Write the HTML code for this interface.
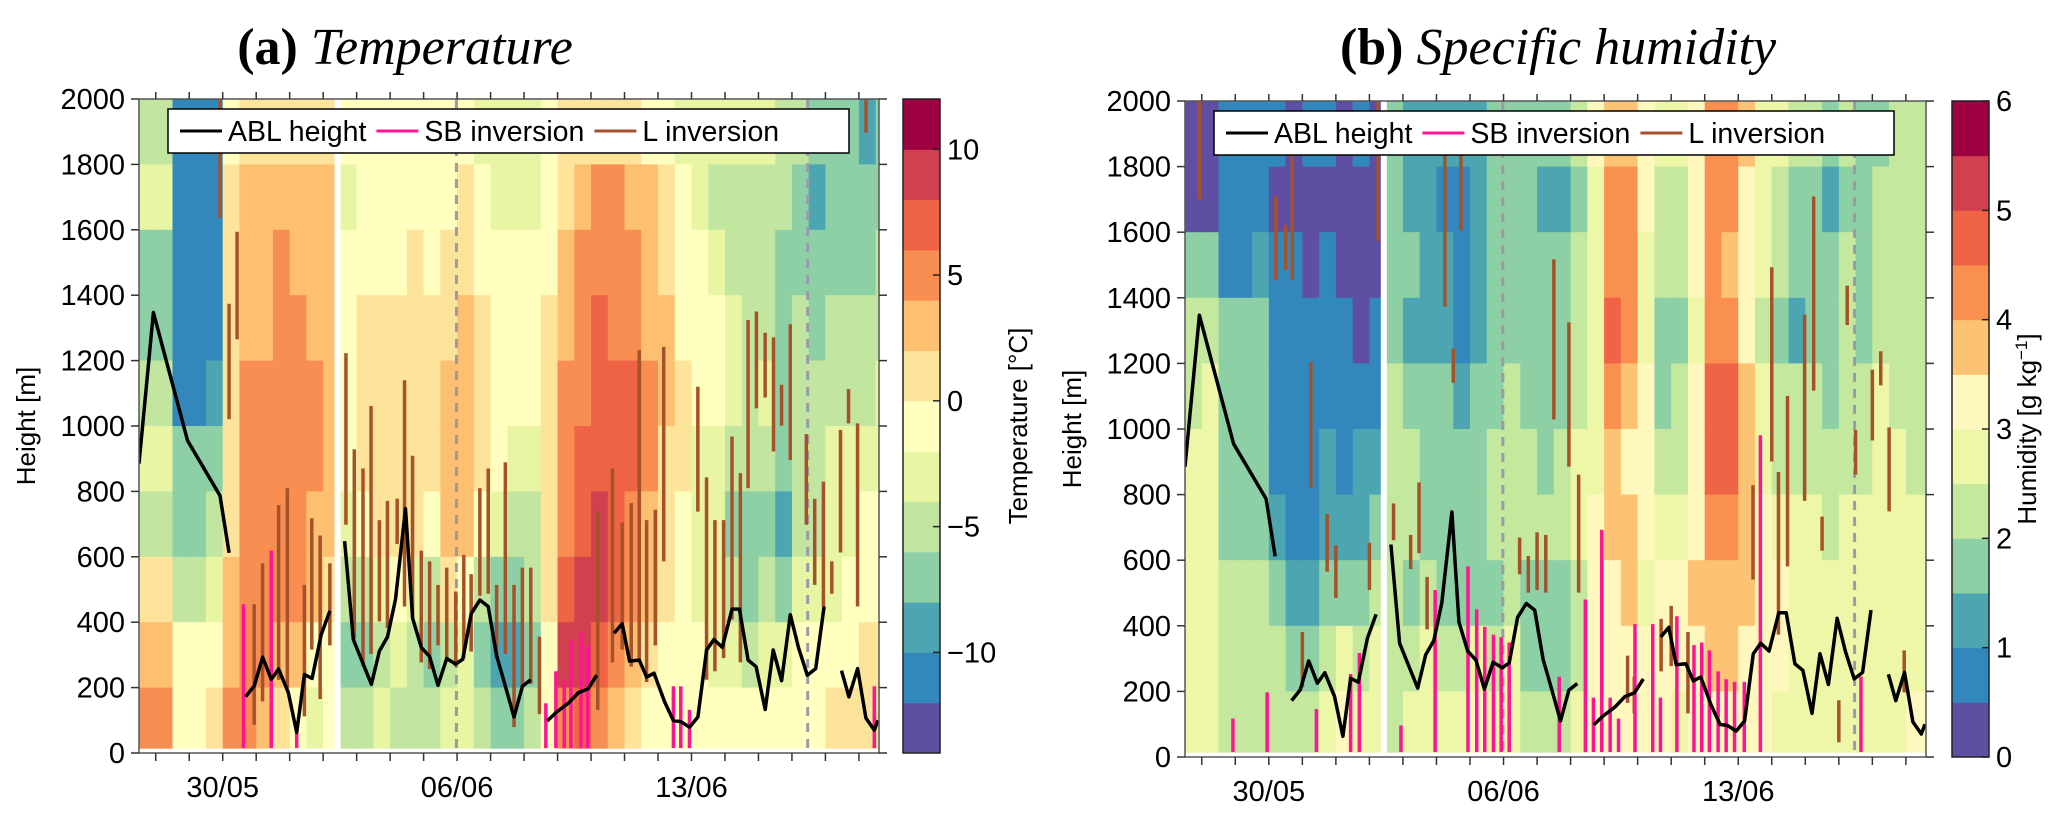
<!DOCTYPE html>
<html><head><meta charset="utf-8"><style>
html,body{margin:0;padding:0;background:#fff;}
svg{display:block;font-family:"Liberation Sans",sans-serif;}
</style></head><body>
<svg id="fig" width="2067" height="818" viewBox="0 0 2067 818" xmlns="http://www.w3.org/2000/svg">
<text x="405" y="64" text-anchor="middle" font-family="Liberation Serif,serif" font-size="52"><tspan font-weight="bold">(a)</tspan> <tspan font-style="italic">Temperature</tspan></text>
<text x="1558" y="64" text-anchor="middle" font-family="Liberation Serif,serif" font-size="52"><tspan font-weight="bold">(b)</tspan> <tspan font-style="italic">Specific humidity</tspan></text>
</svg>
<script>
// ---------- data ----------
const dateLabels=["30/05","06/06","13/06"];
const dateDays=[2.5,9.5,16.5];
const yTicks=[0,200,400,600,800,1000,1200,1400,1600,1800,2000];
const tempColors=['#5e4fa2','#3288bd','#4ca5b0','#8ed0a5','#c2e6a0','#e8f6a4','#ffffc0','#fee39a','#fdc070','#f98e52','#ee6445','#d1404e','#9e0142'];
const humColors=['#5e4fa2','#3288bd','#4ca5b0','#8ed0a5','#c5e89f','#eef7a8','#fff8be','#fdc374','#f99050','#ee6445','#d1404e','#9e0142'];
const tempTicks=[-10,-5,0,5,10];
const humTicks=[0,1,2,3,4,5,6];
// bins per half-day column, rows top (2000 m) -> bottom (0 m), 200 m each
const tempBins=[
[4,5,3,3,4,5,4,7,8,9],[4,5,3,3,4,5,4,7,8,9],[1,1,1,1,1,3,3,4,6,6],[1,1,1,1,1,3,3,4,6,6],[1,1,1,1,2,3,4,5,6,7],
[6,7,7,7,7,7,7,8,8,9],[7,8,8,8,9,9,9,9,9,9],[7,8,8,8,9,9,9,9,9,8],[7,8,9,9,9,9,9,9,8,7],[7,8,8,9,9,9,9,9,8,6],
[7,8,8,8,9,9,8,8,6,5],[7,8,8,8,8,8,8,7,6,6],[6,5,6,6,6,6,5,4,3,4],[6,6,6,7,7,7,6,4,3,4],[6,6,6,7,7,7,7,5,4,5],
[6,6,6,7,7,7,7,6,5,4],[6,6,7,7,7,7,7,5,4,4],[6,6,6,7,7,7,6,4,3,4],[6,6,7,7,8,8,8,7,4,5],[6,7,7,8,8,8,8,6,5,5],
[5,6,6,7,7,7,6,4,3,4],[5,5,6,6,6,6,5,3,2,3],[5,5,6,6,6,5,4,3,2,3],[5,5,6,6,6,5,4,4,3,4],[6,6,6,7,7,7,7,7,6,6],
[7,7,8,8,9,9,9,10,11,9],[7,8,9,9,9,10,10,11,11,10],[7,9,9,10,10,10,11,11,10,9],[7,9,9,9,10,10,10,10,9,8],[7,8,9,9,10,10,9,9,8,7],
[6,8,8,8,9,9,8,8,7,6],[6,7,7,8,8,7,7,7,6,6],[5,6,6,6,7,7,6,6,6,6],[5,5,6,6,6,5,5,5,6,6],[5,4,5,6,6,5,5,5,5,6],
[5,4,4,5,5,4,3,4,5,6],[5,4,4,4,4,4,3,3,4,6],[5,4,4,4,5,4,3,4,5,6],[4,4,3,3,3,3,2,3,5,6],[4,3,3,4,4,4,4,5,6,6],
[3,2,3,3,4,4,4,5,6,6],[3,3,3,4,4,5,5,5,6,7],[3,3,3,4,4,5,5,6,6,7],[2,3,3,4,4,5,6,6,7,7],[3,3,4,4,5,5,6,6,7,7]];
const humBins=[
[0,0,3,4,4,5,5,5,5,5],[0,0,3,4,5,5,5,5,5,5],[1,1,1,3,3,3,3,4,4,4],[1,1,1,3,3,3,3,4,4,4],[1,1,2,3,3,3,3,4,4,4],
[1,0,1,1,1,1,2,3,4,4],[0,0,1,1,1,1,1,2,3,4],[1,0,0,1,1,1,1,2,3,4],[1,0,1,1,1,2,2,3,4,5],[0,0,0,1,1,1,2,3,5,6],
[1,0,0,0,1,2,2,3,4,5],[0,0,0,1,1,2,3,4,5,5],[3,3,3,3,4,4,4,4,4,4],[2,2,3,2,3,4,4,3,4,5],[2,2,2,2,3,3,3,4,5,5],
[2,1,2,2,3,3,3,3,4,5],[2,1,1,1,2,3,3,3,4,5],[2,2,2,2,3,3,3,3,5,6],[3,3,3,3,3,4,4,3,4,5],[3,3,3,3,4,4,4,4,5,5],
[3,3,3,3,3,4,4,3,3,4],[3,2,3,3,3,3,4,3,3,4],[3,2,3,3,3,4,4,3,3,4],[4,3,4,4,4,5,5,4,4,5],[6,5,5,5,5,5,6,6,6,6],
[7,8,8,9,8,7,7,6,6,6],[7,8,8,8,7,6,7,7,6,6],[6,6,5,5,6,6,6,5,6,6],[5,4,4,3,3,4,5,6,6,6],[5,4,4,3,4,4,5,6,6,5],
[6,6,6,5,6,6,6,7,6,6],[8,8,8,8,9,9,8,7,7,6],[8,8,7,8,9,9,8,7,7,6],[7,6,6,6,7,7,7,7,6,6],[5,5,5,4,5,5,6,6,6,6],
[5,4,4,3,4,4,5,6,6,5],[4,3,3,2,4,4,5,5,5,5],[4,3,3,3,4,4,5,5,5,5],[3,2,3,3,3,4,4,5,5,5],[4,3,4,4,4,4,5,5,5,5],
[3,3,3,3,4,4,5,5,5,5],[3,4,4,4,5,5,5,5,5,5],[4,4,4,4,4,5,5,5,5,5],[4,4,4,4,4,4,5,5,5,6],[4,4,4,4,4,4,5,5,5,6]];
// ABL height segments (null = gap)
const ablDays=[0,0.43,1.45,2.42,2.69,null,
3.18,3.44,3.69,3.95,4.17,4.46,4.71,4.94,5.17,5.44,5.70,null,
6.14,6.40,6.94,7.18,7.42,7.66,7.96,8.17,8.43,8.68,8.93,9.19,9.46,9.67,9.92,10.18,10.43,10.68,10.91,11.20,11.45,11.70,null,
12.19,12.47,12.83,13.12,13.41,13.67,null,
14.19,14.43,14.65,14.94,15.16,15.38,15.70,15.96,16.18,16.44,16.69,16.95,17.17,17.42,17.71,17.93,18.19,18.43,18.70,18.94,19.19,19.45,19.70,19.96,20.21,20.46,null,
20.98,21.20,21.46,21.71,21.96,22.07];
const ablHeights=[885,1347,955,787,612,null,
172,205,293,225,257,185,63,240,228,362,435,null,
648,347,210,312,355,470,747,412,323,295,207,289,272,287,426,468,448,298,216,110,204,224,null,
98,125,153,184,196,238,null,
366,395,281,284,232,244,156,99,96,79,110,315,347,323,440,440,284,264,133,315,221,423,321,238,258,448,null,
252,172,258,107,70,100];
// SB inversions (day, top height)
const sbDaysA=[3.12,3.95,4.71,12.15,12.45,12.7,12.9,13.2,13.4,15.96,16.18,16.44,21.96];
const sbTopA=[455,619,60,152,250,224,343,369,330,204,204,132,204];
const sbDaysB=[1.43,2.45,3.92,4.94,5.2,6.44,7.46,8.44,8.7,8.94,9.2,9.43,9.67,11.16,11.94,12.18,12.43,12.68,12.93,13.42,13.95,14.18,14.67,15.18,15.41,15.64,15.9,16.14,16.39,16.68,17.16,20.16];
const sbTopB=[117,197,146,253,317,96,509,581,450,397,373,365,349,245,480,181,693,181,117,405,405,181,429,341,349,325,261,237,229,229,981,245];
// L inversions (day, top, bottom)
const lDaysA=[2.42,2.69,2.93,3.44,3.69,4.17,4.43,4.94,5.16,5.41,5.70,6.18,6.43,6.69,6.93,7.18,7.42,7.71,7.93,8.17,8.43,8.68,8.93,9.19,9.46,9.70,9.92,10.18,10.43,10.68,10.94,11.20,11.45,11.70,11.96,13.70,14.14,14.43,14.7,14.94,15.16,15.42,15.67,16.69,16.95,17.20,17.46,17.71,17.96,18.19,18.44,18.70,18.95,19.19,19.45,19.93,20.18,20.44,20.69,20.95,21.19,21.46,21.71];
const lTopA=[2000,1374,1594,455,580,758,810,514,718,665,580,1223,929,870,1061,712,771,778,1140,909,619,586,514,567,494,606,547,810,870,514,889,514,567,567,356,738,870,705,764,1232,712,744,1242,1120,843,712,712,968,856,1324,1350,1285,1271,1126,1311,975,777,830,586,988,1113,1008,2000];
const lBotA=[1636,1021,1265,86,158,224,198,112,316,165,329,698,349,264,303,402,382,639,448,415,277,257,329,283,264,290,310,481,487,290,303,79,198,211,119,132,277,316,264,277,217,329,586,738,224,250,290,408,277,810,1054,1087,922,1001,896,698,514,448,487,613,1008,448,1897];
const lDaysB=[0.43,2.71,3.0,3.2,3.5,3.75,4.24,4.5,5.5,5.76,6.22,6.73,6.98,7.22,7.75,8.0,8.23,9.98,10.24,10.5,10.76,11.0,11.45,11.74,13.2,13.4,14.2,14.5,15.0,16.94,17.5,17.7,17.97,18.48,18.75,19.0,19.5,19.75,20.0,20.5,20.75,21.0,21.45];
const lTopB=[2000,1709,1621,1845,381,1205,741,645,653,2000,773,677,837,549,1845,1245,1845,669,613,685,677,1517,1325,861,309,245,421,461,381,829,1493,869,1101,1349,1709,733,173,1437,997,1181,1237,1005,325];
const lBotB=[1700,1453,1485,1453,213,821,565,485,509,1573,661,573,621,389,1373,1141,1605,557,501,509,501,1029,885,501,165,133,261,277,133,541,901,373,581,781,1117,629,45,1317,861,965,1133,749,197];
const dashedDays=[9.48,19.97];
const gapDays=[5.84,6.02];
const legendLabels=["ABL height","SB inversion","L inversion"];

// ---------- drawing ----------
const NS="http://www.w3.org/2000/svg";
const svg=document.getElementById('fig');
function mk(tag,attrs,parent){const e=document.createElementNS(NS,tag);for(const k in attrs)e.setAttribute(k,attrs[k]);(parent||svg).appendChild(e);return e;}
const D0=0,D1=22.1;

function panel(P){
  const g=mk('g',{});
  
  
  const xs=d=>P.x0+(d-D0)/(D1-D0)*(P.x1-P.x0);
  const ys=h=>P.y1-h/2000*(P.y1-P.y0);
  const clip=mk('clipPath',{id:P.name+'-clip'},g);
  mk('rect',{x:P.x0,y:P.y0,width:P.x1-P.x0,height:P.y1-P.y0},clip);
  const hm=mk('g',{'clip-path':'url(#'+P.name+'-clip)'},g);
  
  
  P.bins.forEach((col,k)=>{
    col.forEach((b,r)=>{
      const ht=2000-200*r, hb=Math.max(15,2000-200*(r+1));
      const x=xs(k*0.5), x2=xs(k*0.5+0.5);
      const c=mk('rect',{x:x,y:ys(ht),width:x2-x+0.6,height:ys(hb)-ys(ht)+0.6,fill:P.colors[b]},hm);
      
      
    });
  });
  const gap=mk('rect',{x:xs(gapDays[0]),y:P.y0,width:xs(gapDays[1])-xs(gapDays[0]),height:P.y1-P.y0,fill:'#fff'},hm);
  
  
  dashedDays.forEach(d=>{
    const l=mk('line',{x1:xs(d),x2:xs(d),y1:P.y0,y2:P.y1,stroke:'#9a9aa8','stroke-width':3,'stroke-dasharray':'9,7'},hm);
    
    
  });
  P.lDays.forEach((d,i)=>{
    const l=mk('line',{x1:xs(d),x2:xs(d),y1:ys(P.lTop[i]),y2:ys(P.lBot[i]),stroke:'#a5522b','stroke-width':3.5},hm);
    
    
  });
  P.sbDays.forEach((d,i)=>{
    const l=mk('line',{x1:xs(d),x2:xs(d),y1:ys(P.sbTop[i]),y2:ys(15),stroke:'#ff1493','stroke-width':3.5},hm);
    
    
  });
  let path='',pen=false;
  ablDays.forEach((d,i)=>{
    if(d===null){pen=false;return;}
    path+=(pen?'L':'M')+xs(d).toFixed(1)+','+ys(ablHeights[i]).toFixed(1);pen=true;
  });
  const abl=mk('path',{d:path,fill:'none',stroke:'#000','stroke-width':3.5,'stroke-linejoin':'round'},hm);
  
  
  // axes box
  const box=mk('rect',{x:P.x0,y:P.y0,width:P.x1-P.x0,height:P.y1-P.y0,fill:'none',stroke:'#555','stroke-width':1.5},g);
  
  
  // x ticks
  for(let d=0.5;d<D1;d+=1){
    mk('line',{x1:xs(d),x2:xs(d),y1:P.y1,y2:P.y1+8,stroke:'#333','stroke-width':1.5},g);
    mk('line',{x1:xs(d),x2:xs(d),y1:P.y0,y2:P.y0-7,stroke:'#333','stroke-width':1.5},g);
  }
  dateLabels.forEach((s,i)=>{
    const t=mk('text',{x:xs(dateDays[i]),y:P.y1+44,'text-anchor':'middle','font-size':29},g);
    t.textContent=s;
    
    
  });
  yTicks.forEach(v=>{
    mk('line',{x1:P.x0-8,x2:P.x0,y1:ys(v),y2:ys(v),stroke:'#333','stroke-width':1.5},g);
    mk('line',{x1:P.x1,x2:P.x1+8,y1:ys(v),y2:ys(v),stroke:'#333','stroke-width':1.5},g);
    const t=mk('text',{x:P.x0-14,y:ys(v)+10,'text-anchor':'end','font-size':29},g);
    t.textContent=v;
    
    
  });
  const yt=mk('text',{x:0,y:0,transform:'translate('+(P.x0-104)+','+((P.y0+P.y1)/2)+') rotate(-90)','text-anchor':'middle','font-size':26},g);
  yt.textContent='Height [m]';
  
  
  // legend
  const lg=mk('g',{},g);
  
  
  mk('rect',{x:P.lx,y:P.y0+10,width:P.lw,height:44,fill:'#fff',stroke:'#000','stroke-width':1.5},lg);
  const cols=['#000','#ff1493','#a5522b'];
  let cx=P.lx+12;
  legendLabels.forEach((s,i)=>{
    const e=mk('g',{},lg);
    
    
    mk('line',{x1:cx,x2:cx+42,y1:P.y0+32,y2:P.y0+32,stroke:cols[i],'stroke-width':3},e);
    const t=mk('text',{x:cx+48,y:P.y0+42,'font-size':28.5},e);
    t.textContent=s;
    cx+=48+t.getComputedTextLength()+10;
  });
  // colorbar
  const cb=mk('g',{},g);
  
  
  const n=P.colors.length, bh=(P.y1-P.y0)/n;
  P.colors.forEach((c,i)=>{
    mk('rect',{x:P.cbx,y:P.y1-(i+1)*bh,width:37,height:bh+0.5,fill:c},cb);
  });
  mk('rect',{x:P.cbx,y:P.y0,width:37,height:P.y1-P.y0,fill:'none',stroke:'#222','stroke-width':1.5},cb);
  const cy=v=>P.y1-(v-P.cmin)/(P.cmax-P.cmin)*(P.y1-P.y0);
  P.cticks.forEach(v=>{
    mk('line',{x1:P.cbx+30,x2:P.cbx+37,y1:cy(v),y2:cy(v),stroke:'#222','stroke-width':1.5},cb);
    const t=mk('text',{x:P.cbx+44,y:cy(v)+10,'font-size':29},cb);
    t.textContent=v<0?'\u2212'+(-v):String(v);
    
    
  });
  const ct=mk('text',{x:0,y:0,transform:'translate('+(P.cbx+P.ctx)+','+((P.y0+P.y1)/2)+') rotate(-90)','text-anchor':'middle','font-size':26},cb);
  ct.innerHTML=P.ctitle;
  
  
}
panel({name:'temperature-panel',x0:139,x1:879,y0:99,y1:753,bins:tempBins,colors:tempColors,
  sbDays:sbDaysA,sbTop:sbTopA,lDays:lDaysA,lTop:lTopA,lBot:lBotA,lx:168,lw:681,
  cbx:903,cmin:-14,cmax:12,cticks:tempTicks,ctx:124,ctitle:'Temperature [°C]'});
panel({name:'humidity-panel',x0:1185,x1:1926,y0:101,y1:757,bins:humBins,colors:humColors,
  sbDays:sbDaysB,sbTop:sbTopB,lDays:lDaysB,lTop:lTopB,lBot:lBotB,lx:1214,lw:680,
  cbx:1952,cmin:0,cmax:6,cticks:humTicks,ctx:84,ctitle:'Humidity [g kg<tspan baseline-shift="super" font-size="17">\u22121</tspan>]'});
</script>
</body></html>
